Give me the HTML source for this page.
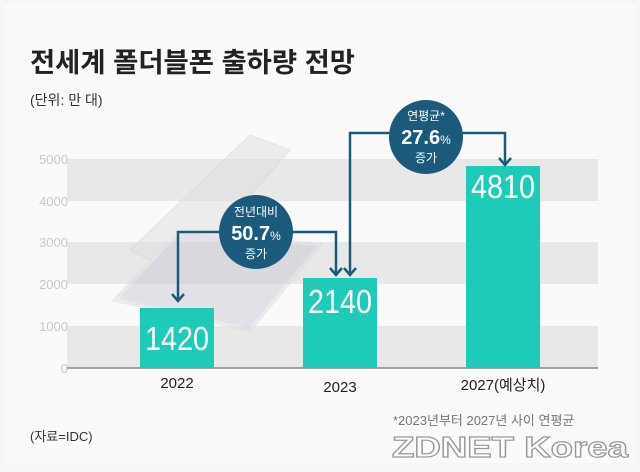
<!DOCTYPE html>
<html><head><meta charset="utf-8"><style>
body{margin:0;width:640px;height:467px;background:#f6f6f6;overflow:hidden;font-family:"Liberation Sans","Noto Sans CJK KR",sans-serif}
</style></head><body>
<svg width="640" height="467" xmlns="http://www.w3.org/2000/svg" font-family="Liberation Sans, Noto Sans CJK KR, sans-serif">
<rect width="640" height="467" fill="#f6f6f6"/>
<rect x="4" y="4" width="632" height="459" fill="#fafafa"/>
<text x="30" y="72" font-size="27" font-weight="bold" fill="#222" textLength="325" lengthAdjust="spacingAndGlyphs">전세계 폴더블폰 출하량 전망</text>
<text x="30" y="105" font-size="14" fill="#333">(단위: 만 대)</text>
<g fill="#e8e8e8">
<rect x="67" y="159" width="531" height="42"/>
<rect x="67" y="242" width="531" height="42"/>
<rect x="67" y="326" width="531" height="42"/>
</g>
<g font-size="13" fill="#c8c8c8" text-anchor="end">
<text x="68" y="164">5000</text><text x="68" y="206">4000</text><text x="68" y="247">3000</text>
<text x="68" y="289">2000</text><text x="68" y="331">1000</text><text x="68" y="373">0</text>
</g>
<g opacity="0.5">
<polygon points="130,250 250,135 290,150 180,275" fill="#e0e0e0" stroke="#d0d0d0"/>
<polygon points="115,300 180,230 320,245 250,330" fill="#c9c9d6" stroke="#ddd" stroke-width="4"/>
</g>
<line x1="67" y1="368" x2="598" y2="368" stroke="#888" stroke-width="1.5"/>
<g fill="#1ecab8">
<rect x="140" y="308" width="74" height="60"/>
<rect x="303" y="278" width="74" height="90"/>
<rect x="466" y="166" width="74" height="202"/>
</g>
<g fill="#fff" font-size="33" text-anchor="middle">
<text x="177" y="350" textLength="64" lengthAdjust="spacingAndGlyphs">1420</text>
<text x="340" y="313" textLength="64" lengthAdjust="spacingAndGlyphs">2140</text>
<text x="503" y="198" textLength="64" lengthAdjust="spacingAndGlyphs">4810</text>
</g>
<g font-size="15" fill="#222" text-anchor="middle">
<text x="177" y="388">2022</text><text x="340" y="392">2023</text><text x="503" y="390">2027(예상치)</text>
</g>
<g stroke="#1b5a7a" stroke-width="2.5" fill="none">
<polyline points="178,300 178,232 336,232 336,274"/>
<polyline points="350,274 350,133 505,133 505,164"/>
<polyline points="172,294 178,301 184,294"/>
<polyline points="330,268 336,275 342,268"/>
<polyline points="344,268 350,275 356,268"/>
<polyline points="499,158 505,165 511,158"/>
</g>
<circle cx="256" cy="232" r="37" fill="#1b5a7a"/>
<circle cx="426" cy="137" r="37" fill="#1b5a7a"/>
<g fill="#fff" text-anchor="middle">
<text x="256" y="216" font-size="12">전년대비</text>
<text x="256" y="240" font-size="20" font-weight="bold">50.7<tspan font-size="12" font-weight="normal">%</tspan></text>
<text x="256" y="258" font-size="12">증가</text>
<text x="426" y="120" font-size="12">연평균*</text>
<text x="426" y="144" font-size="20" font-weight="bold">27.6<tspan font-size="12" font-weight="normal">%</tspan></text>
<text x="426" y="162" font-size="12">증가</text>
</g>
<text x="393" y="425" font-size="13" fill="#777">*2023년부터 2027년 사이 연평균</text>
<text x="30" y="441" font-size="13" fill="#333">(자료=IDC)</text>
<text x="392" y="457" font-size="29" font-weight="bold" fill="#fff" stroke="#999" stroke-width="1.2" textLength="236" lengthAdjust="spacingAndGlyphs">ZDNET Korea</text>
</svg>
</body></html>
